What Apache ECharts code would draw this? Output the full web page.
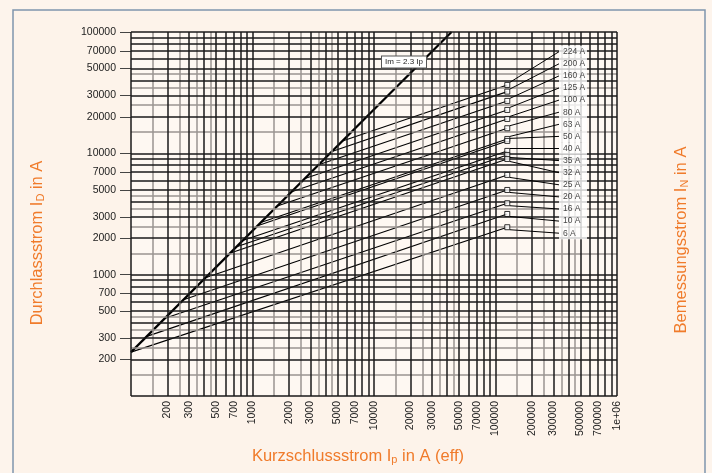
<!DOCTYPE html>
<html><head><meta charset="utf-8">
<script src="https://cdn.jsdelivr.net/npm/echarts@6/dist/echarts.min.js"></script>
<style>html,body{margin:0;padding:0;background:#fdf4ec;}#c{width:712px;height:473px;}</style>
</head><body><div id="c"></div>
<script>
// Fuse ratings (labels at right), top to bottom
const ratings = ['224 A','200 A','160 A','125 A','100 A','80 A','63 A','50 A','40 A','35 A','32 A','25 A','20 A','16 A','10 A','6 A'];
// Curve start on the Im = 2.3 Ip line (prospective current Ip, let-through ID)
const startIp = [5500, 4500, 3500, 2700, 2100, 1600, 1170, 1100, 830, 740, 650, 410, 270, 190, 135, 100];
const startId = [12650, 10350, 8050, 6210, 4830, 3680, 2690, 2530, 1910, 1700, 1500, 943, 621, 437, 310, 230];
// Curve end (marker)
const endIp = [125000,125000,125000,125000,125000,125000,125000,125000,125000,125000,125000,125000,125000,125000,125000,125000];
const endId = [36640, 32260, 27040, 22790, 19210, 16100, 13140, 12660, 10470, 9700, 8990, 6640, 4990, 3880, 3165, 2460];
// Im = 2.3 Ip reference line
const imIp = [100, 43480];
const imId = [230, 100000];
// Axis tick labels
const xTicks = [200,300,500,700,1000,2000,3000,5000,7000,10000,20000,30000,50000,70000,100000,200000,300000,500000,700000,1000000];
const yTicks = [200,300,500,700,1000,2000,3000,5000,7000,10000,20000,30000,50000,70000,100000];
// Grid multipliers
const majorMult = [1,2,3,4,5,6,7,8,9];
const minorMult = [1.5,2.5,3.5,4.5];

function gridVals(mults, lo, hi){
  const out=[];
  for(let d=lo; d<hi; d*=10){ mults.forEach(m=>{ const v=Math.round(m*d); if(v<=hi) out.push(v); }); }
  if(mults[0]===1) out.push(hi);
  return out;
}
const xMajor = gridVals(majorMult,100,1000000), xMinor = gridVals(minorMult,100,1000000);
const yMajor = gridVals(majorMult,100,100000), yMinor = gridVals(minorMult,100,100000);

const chart = echarts.init(document.getElementById('c'), null, {renderer:'canvas'});
const fmt = v => { const r=Math.round(v); return r===1000000 ? '1e+06' : String(r); };
const FONT = 'Liberation Sans, Arial, sans-serif';

const series = [];
series.push({type:'line', name:'gridMinor', data:[], z:1, silent:true,
  markLine:{silent:true, symbol:['none','none'], animation:false, label:{show:false},
    lineStyle:{type:'solid', color:'#9a9590', width:1.5},
    data: xMinor.map(v=>({xAxis:v})).concat(yMinor.map(v=>({yAxis:v})))}});
series.push({type:'line', name:'gridMajor', data:[], z:1, silent:true,
  markLine:{silent:true, symbol:['none','none'], animation:false, label:{show:false},
    lineStyle:{type:'solid', color:'#1a1a1a', width:1.5},
    data: xMajor.map(v=>({xAxis:v})).concat(yMajor.map(v=>({yAxis:v})))}});
ratings.forEach((r,i)=>{
  series.push({type:'line', name:r, z:3, symbol:'none', animation:false,
    lineStyle:{color:'#000', width:1.1},
    data:[[startIp[i],startId[i]],[endIp[i],endId[i]]]});
});
series.push({type:'line', name:'Im', z:4, symbol:'none', animation:false,
  lineStyle:{color:'#000', width:2.2},
  data: imIp.map((x,i)=>[x, imId[i]])});
series.push({type:'scatter', name:'ends', z:5, symbol:'rect', symbolSize:5, animation:false,
  itemStyle:{color:'#fff', borderColor:'#000', borderWidth:1},
  data: endIp.map((x,i)=>[x,endId[i]]),
  label:{show:true, formatter:p=>ratings[p.dataIndex], fontSize:8.5, fontFamily:FONT, color:'#111',
    backgroundColor:'#ffffff', padding:[0,4,0,4], lineHeight:12.2, width:20},
  labelLine:{show:true, lineStyle:{color:'#000', width:1}},
  labelLayout: p => ({x:559, y:51.7 + p.dataIndex*12.1, align:'left', verticalAlign:'middle'})
});

chart.setOption({
  animation:false,
  backgroundColor:'transparent',
  grid:{left:131, top:32, right:95, bottom:77, show:true, backgroundColor:'#fef8f2', borderWidth:0},
  xAxis:{type:'log', logBase:10, min:100, max:1000000,
    axisLine:{show:false}, splitLine:{show:false},
    axisTick:{show:false, customValues:xTicks},
    axisLabel:{customValues:xTicks, rotate:90, formatter:fmt, fontSize:10.5, color:'#222', fontFamily:FONT, margin:5}},
  yAxis:{type:'log', logBase:10, min:100, max:100000,
    axisLine:{show:false}, splitLine:{show:false},
    axisTick:{show:true, customValues:yTicks, length:11, lineStyle:{color:'#444', width:1}},
    axisLabel:{customValues:yTicks, formatter:fmt, fontSize:10.5, color:'#222', fontFamily:FONT, margin:15}},
  graphic:[
    {type:'rect', z:-10, shape:{x:13, y:10, width:692, height:470}, style:{fill:'#fdf3ea', stroke:'#7f95ad', lineWidth:1.5}},
    {type:'text', z:10, x:37, y:243, rotation:Math.PI/2, style:{text:'Durchlassstrom I{s|D} in A', fill:'#f07b2b', font:'16.5px '+FONT, align:'center', verticalAlign:'middle',
      rich:{s:{fontSize:11, fill:'#f07b2b', padding:[8,0,0,0]}}}},
    {type:'text', z:10, x:681, y:240, rotation:Math.PI/2, style:{text:'Bemessungsstrom I{s|N} in A', fill:'#f07b2b', font:'16.5px '+FONT, align:'center', verticalAlign:'middle',
      rich:{s:{fontSize:11, fill:'#f07b2b', padding:[8,0,0,0]}}}},
    {type:'text', z:10, x:358, y:456, style:{text:'Kurzschlussstrom I{s|p} in A (eff)', fill:'#f07b2b', font:'16.5px '+FONT, align:'center', verticalAlign:'middle',
      rich:{s:{fontSize:11, fill:'#f07b2b', padding:[8,0,0,0]}}}},
    {type:'text', z:10, x:404, y:62, style:{text:'Im = 2.3 Ip', fill:'#222', font:'8px '+FONT, align:'center', verticalAlign:'middle',
      backgroundColor:'#fff', borderColor:'#555', borderWidth:1, padding:[2,3,1,3]}}
  ],
  series
});
</script></body></html>
